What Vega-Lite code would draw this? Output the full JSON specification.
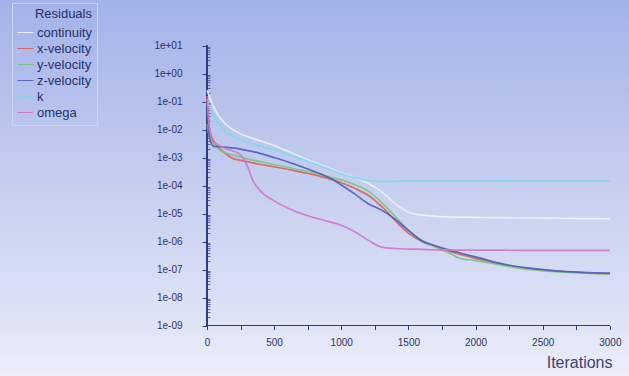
{
  "$schema": "https://vega.github.io/schema/vega-lite/v6.json",
  "width": 629,
  "height": 376,
  "autosize": {"type": "none"},
  "padding": 0,
  "background": "#e9ecf8",
  "config": {
    "view": {"stroke": null, "fill": {"gradient": "linear", "x1": 0, "y1": 0, "x2": 0, "y2": 1, "stops": [{"offset": 0, "color": "#a3b2e8"}, {"offset": 0.45, "color": "#c3ccef"}, {"offset": 0.85, "color": "#dee3f6"}, {"offset": 1, "color": "#eceef9"}]}},
    "font": "Liberation Sans",
    "axis": {"labelFont": "Liberation Sans", "labelColor": "#2b3468", "domain": false, "grid": false, "tickColor": "#2f3d80", "tickWidth": 1}
  },
  "data": {"values": [
    {"series":"continuity","iteration":1,"residual":0.251},{"series":"continuity","iteration":20,"residual":0.141},{"series":"continuity","iteration":50,"residual":0.0631},{"series":"continuity","iteration":100,"residual":0.0251},{"series":"continuity","iteration":150,"residual":0.0141},{"series":"continuity","iteration":200,"residual":0.00933},{"series":"continuity","iteration":250,"residual":0.00708},{"series":"continuity","iteration":300,"residual":0.00562},{"series":"continuity","iteration":350,"residual":0.00468},{"series":"continuity","iteration":400,"residual":0.00389},{"series":"continuity","iteration":500,"residual":0.00269},{"series":"continuity","iteration":600,"residual":0.0017},{"series":"continuity","iteration":700,"residual":0.00105},{"series":"continuity","iteration":800,"residual":6.61e-4},{"series":"continuity","iteration":900,"residual":4.27e-4},{"series":"continuity","iteration":1000,"residual":2.82e-4},{"series":"continuity","iteration":1100,"residual":1.91e-4},{"series":"continuity","iteration":1200,"residual":1.2e-4},{"series":"continuity","iteration":1300,"residual":6.03e-5},{"series":"continuity","iteration":1400,"residual":2.24e-5},{"series":"continuity","iteration":1500,"residual":1.12e-5},{"series":"continuity","iteration":1600,"residual":8.71e-6},{"series":"continuity","iteration":1700,"residual":7.94e-6},{"series":"continuity","iteration":1800,"residual":7.59e-6},{"series":"continuity","iteration":1900,"residual":7.41e-6},{"series":"continuity","iteration":2000,"residual":7.24e-6},{"series":"continuity","iteration":2200,"residual":7.08e-6},{"series":"continuity","iteration":2400,"residual":6.92e-6},{"series":"continuity","iteration":2600,"residual":6.76e-6},{"series":"continuity","iteration":2800,"residual":6.61e-6},{"series":"continuity","iteration":3000,"residual":6.46e-6},
    {"series":"x-velocity","iteration":1,"residual":0.158},{"series":"x-velocity","iteration":20,"residual":0.01},{"series":"x-velocity","iteration":50,"residual":0.00355},{"series":"x-velocity","iteration":100,"residual":0.002},{"series":"x-velocity","iteration":150,"residual":0.00126},{"series":"x-velocity","iteration":200,"residual":8.91e-4},{"series":"x-velocity","iteration":250,"residual":7.94e-4},{"series":"x-velocity","iteration":300,"residual":7.08e-4},{"series":"x-velocity","iteration":350,"residual":6.31e-4},{"series":"x-velocity","iteration":400,"residual":5.62e-4},{"series":"x-velocity","iteration":500,"residual":4.68e-4},{"series":"x-velocity","iteration":600,"residual":3.8e-4},{"series":"x-velocity","iteration":700,"residual":3.02e-4},{"series":"x-velocity","iteration":800,"residual":2.4e-4},{"series":"x-velocity","iteration":900,"residual":1.78e-4},{"series":"x-velocity","iteration":1000,"residual":1.26e-4},{"series":"x-velocity","iteration":1100,"residual":7.94e-5},{"series":"x-velocity","iteration":1200,"residual":4.47e-5},{"series":"x-velocity","iteration":1300,"residual":1.78e-5},{"series":"x-velocity","iteration":1400,"residual":5.62e-6},{"series":"x-velocity","iteration":1500,"residual":2.0e-6},{"series":"x-velocity","iteration":1600,"residual":1.0e-6},{"series":"x-velocity","iteration":1700,"residual":6.61e-7},{"series":"x-velocity","iteration":1800,"residual":4.47e-7},{"series":"x-velocity","iteration":1900,"residual":3.31e-7},{"series":"x-velocity","iteration":2000,"residual":2.51e-7},{"series":"x-velocity","iteration":2200,"residual":1.51e-7},{"series":"x-velocity","iteration":2400,"residual":1.07e-7},{"series":"x-velocity","iteration":2600,"residual":8.71e-8},{"series":"x-velocity","iteration":2800,"residual":7.59e-8},{"series":"x-velocity","iteration":3000,"residual":7.08e-8},
    {"series":"y-velocity","iteration":1,"residual":0.0158},{"series":"y-velocity","iteration":20,"residual":0.00501},{"series":"y-velocity","iteration":50,"residual":0.00316},{"series":"y-velocity","iteration":100,"residual":0.00178},{"series":"y-velocity","iteration":150,"residual":0.00141},{"series":"y-velocity","iteration":200,"residual":0.0012},{"series":"y-velocity","iteration":250,"residual":0.00105},{"series":"y-velocity","iteration":300,"residual":8.91e-4},{"series":"y-velocity","iteration":350,"residual":7.94e-4},{"series":"y-velocity","iteration":400,"residual":7.08e-4},{"series":"y-velocity","iteration":500,"residual":5.62e-4},{"series":"y-velocity","iteration":600,"residual":4.47e-4},{"series":"y-velocity","iteration":700,"residual":3.55e-4},{"series":"y-velocity","iteration":800,"residual":2.82e-4},{"series":"y-velocity","iteration":900,"residual":2.09e-4},{"series":"y-velocity","iteration":1000,"residual":1.58e-4},{"series":"y-velocity","iteration":1100,"residual":1.07e-4},{"series":"y-velocity","iteration":1200,"residual":6.31e-5},{"series":"y-velocity","iteration":1300,"residual":2.51e-5},{"series":"y-velocity","iteration":1400,"residual":7.94e-6},{"series":"y-velocity","iteration":1500,"residual":2.51e-6},{"series":"y-velocity","iteration":1600,"residual":1.12e-6},{"series":"y-velocity","iteration":1700,"residual":6.31e-7},{"series":"y-velocity","iteration":1800,"residual":3.98e-7},{"series":"y-velocity","iteration":1900,"residual":2.4e-7},{"series":"y-velocity","iteration":2000,"residual":2.09e-7},{"series":"y-velocity","iteration":2200,"residual":1.41e-7},{"series":"y-velocity","iteration":2400,"residual":1.0e-7},{"series":"y-velocity","iteration":2600,"residual":8.32e-8},{"series":"y-velocity","iteration":2800,"residual":7.59e-8},{"series":"y-velocity","iteration":3000,"residual":6.92e-8},
    {"series":"z-velocity","iteration":1,"residual":0.0501},{"series":"z-velocity","iteration":20,"residual":0.00501},{"series":"z-velocity","iteration":50,"residual":0.00251},{"series":"z-velocity","iteration":100,"residual":0.0024},{"series":"z-velocity","iteration":150,"residual":0.00229},{"series":"z-velocity","iteration":200,"residual":0.00219},{"series":"z-velocity","iteration":250,"residual":0.002},{"series":"z-velocity","iteration":300,"residual":0.00178},{"series":"z-velocity","iteration":350,"residual":0.00158},{"series":"z-velocity","iteration":400,"residual":0.00138},{"series":"z-velocity","iteration":500,"residual":0.001},{"series":"z-velocity","iteration":600,"residual":7.08e-4},{"series":"z-velocity","iteration":700,"residual":4.79e-4},{"series":"z-velocity","iteration":800,"residual":3.16e-4},{"series":"z-velocity","iteration":900,"residual":2.0e-4},{"series":"z-velocity","iteration":1000,"residual":1.05e-4},{"series":"z-velocity","iteration":1100,"residual":5.01e-5},{"series":"z-velocity","iteration":1200,"residual":2.24e-5},{"series":"z-velocity","iteration":1300,"residual":1.32e-5},{"series":"z-velocity","iteration":1400,"residual":6.31e-6},{"series":"z-velocity","iteration":1500,"residual":2.51e-6},{"series":"z-velocity","iteration":1600,"residual":1.07e-6},{"series":"z-velocity","iteration":1700,"residual":7.08e-7},{"series":"z-velocity","iteration":1800,"residual":5.01e-7},{"series":"z-velocity","iteration":1900,"residual":3.72e-7},{"series":"z-velocity","iteration":2000,"residual":2.82e-7},{"series":"z-velocity","iteration":2200,"residual":1.58e-7},{"series":"z-velocity","iteration":2400,"residual":1.12e-7},{"series":"z-velocity","iteration":2600,"residual":8.91e-8},{"series":"z-velocity","iteration":2800,"residual":7.94e-8},{"series":"z-velocity","iteration":3000,"residual":7.41e-8},
    {"series":"k","iteration":1,"residual":0.1},{"series":"k","iteration":20,"residual":0.0631},{"series":"k","iteration":50,"residual":0.0316},{"series":"k","iteration":100,"residual":0.0141},{"series":"k","iteration":150,"residual":0.00794},{"series":"k","iteration":200,"residual":0.00562},{"series":"k","iteration":250,"residual":0.00447},{"series":"k","iteration":300,"residual":0.00355},{"series":"k","iteration":350,"residual":0.00302},{"series":"k","iteration":400,"residual":0.00251},{"series":"k","iteration":500,"residual":0.00191},{"series":"k","iteration":600,"residual":0.00132},{"series":"k","iteration":700,"residual":8.91e-4},{"series":"k","iteration":800,"residual":6.03e-4},{"series":"k","iteration":900,"residual":3.98e-4},{"series":"k","iteration":1000,"residual":2.69e-4},{"series":"k","iteration":1100,"residual":1.91e-4},{"series":"k","iteration":1200,"residual":1.51e-4},{"series":"k","iteration":1300,"residual":1.38e-4},{"series":"k","iteration":1400,"residual":1.41e-4},{"series":"k","iteration":1500,"residual":1.45e-4},{"series":"k","iteration":1600,"residual":1.44e-4},{"series":"k","iteration":1700,"residual":1.45e-4},{"series":"k","iteration":1800,"residual":1.46e-4},{"series":"k","iteration":1900,"residual":1.44e-4},{"series":"k","iteration":2000,"residual":1.45e-4},{"series":"k","iteration":2200,"residual":1.46e-4},{"series":"k","iteration":2400,"residual":1.44e-4},{"series":"k","iteration":2600,"residual":1.45e-4},{"series":"k","iteration":2800,"residual":1.44e-4},{"series":"k","iteration":3000,"residual":1.45e-4},
    {"series":"omega","iteration":1,"residual":0.126},{"series":"omega","iteration":20,"residual":0.01},{"series":"omega","iteration":50,"residual":0.00398},{"series":"omega","iteration":100,"residual":0.00251},{"series":"omega","iteration":150,"residual":0.002},{"series":"omega","iteration":200,"residual":0.00166},{"series":"omega","iteration":250,"residual":0.00126},{"series":"omega","iteration":300,"residual":5.01e-4},{"series":"omega","iteration":350,"residual":1.26e-4},{"series":"omega","iteration":400,"residual":6.31e-5},{"series":"omega","iteration":500,"residual":2.82e-5},{"series":"omega","iteration":600,"residual":1.58e-5},{"series":"omega","iteration":700,"residual":1.0e-5},{"series":"omega","iteration":800,"residual":7.08e-6},{"series":"omega","iteration":900,"residual":5.25e-6},{"series":"omega","iteration":1000,"residual":3.8e-6},{"series":"omega","iteration":1100,"residual":2.24e-6},{"series":"omega","iteration":1200,"residual":1.12e-6},{"series":"omega","iteration":1300,"residual":6.31e-7},{"series":"omega","iteration":1400,"residual":5.62e-7},{"series":"omega","iteration":1500,"residual":5.37e-7},{"series":"omega","iteration":1600,"residual":5.25e-7},{"series":"omega","iteration":1700,"residual":5.01e-7},{"series":"omega","iteration":1800,"residual":5.01e-7},{"series":"omega","iteration":1900,"residual":4.9e-7},{"series":"omega","iteration":2000,"residual":4.9e-7},{"series":"omega","iteration":2200,"residual":4.9e-7},{"series":"omega","iteration":2400,"residual":4.8e-7},{"series":"omega","iteration":2600,"residual":4.8e-7},{"series":"omega","iteration":2800,"residual":4.8e-7},{"series":"omega","iteration":3000,"residual":4.8e-7}
  ]},
  "layer": [
    {
      "mark": {"type": "rule", "color": "#2f3d80", "strokeWidth": 1.2},
      "encoding": {
        "x": {"datum": 0, "type": "quantitative", "scale": {"domain": [-1540.9, 3142.6], "nice": false, "zero": false}, "axis": null},
        "y": {"datum": 1e-9, "type": "quantitative", "scale": {"type": "log", "domain": [1.572e-11, 421.7], "nice": false},
              "axis": {"orient": "right", "offset": -422, "values": [2e-9,3e-9,4e-9,5e-9,6e-9,7e-9,8e-9,9e-9,2e-8,3e-8,4e-8,5e-8,6e-8,7e-8,8e-8,9e-8,2e-7,3e-7,4e-7,5e-7,6e-7,7e-7,8e-7,9e-7,2e-6,3e-6,4e-6,5e-6,6e-6,7e-6,8e-6,9e-6,2e-5,3e-5,4e-5,5e-5,6e-5,7e-5,8e-5,9e-5,2e-4,3e-4,4e-4,5e-4,6e-4,7e-4,8e-4,9e-4,0.002,0.003,0.004,0.005,0.006,0.007,0.008,0.009,0.02,0.03,0.04,0.05,0.06,0.07,0.08,0.09,0.2,0.3,0.4,0.5,0.6,0.7,0.8,0.9,2,3,4,5,6,7,8,9], "labels": false, "tickSize": 3, "title": null, "tickColor": "#5a66a0"}},
        "y2": {"datum": 10}
      }
    },
    {
      "mark": {"type": "rule", "color": "#2f3d80", "strokeWidth": 1.2},
      "encoding": {
        "x": {"datum": 0, "type": "quantitative", "axis": null},
        "x2": {"datum": 3000},
        "y": {"datum": 1e-9, "type": "quantitative", "axis": null}
      }
    },
    {
      "mark": {"type": "line", "interpolate": "monotone", "strokeWidth": 1.7, "opacity": 0.9},
      "encoding": {
        "x": {"field": "iteration", "type": "quantitative",
              "axis": {"orient": "bottom", "offset": -50.5, "values": [0,250,500,750,1000,1250,1500,1750,2000,2250,2500,2750,3000], "format": "d", "labelExpr": "datum.value % 500 == 0 ? datum.label : ''", "tickSize": 4, "labelPadding": 8, "labelFontSize": 10, "title": "Iterations", "titleFont": "Liberation Sans", "titleFontSize": 16, "titleFontWeight": "normal", "titleColor": "#3a4474", "titleX": 612, "titleY": 29, "titleAlign": "right", "titleBaseline": "top"}},
        "y": {"field": "residual", "type": "quantitative",
              "axis": {"orient": "left", "offset": -207, "values": [1e-9,1e-8,1e-7,1e-6,1e-5,1e-4,0.001,0.01,0.1,1,10], "labelExpr": "'1e' + (round(log(datum.value)/LN10) < 0 ? '-' : '+') + (abs(round(log(datum.value)/LN10)) < 10 ? '0' : '') + abs(round(log(datum.value)/LN10))", "tickSize": 5, "labelPadding": 20, "labelFontSize": 10, "title": null}},
        "color": {"field": "series", "type": "nominal",
                  "scale": {"domain": ["continuity","x-velocity","y-velocity","z-velocity","k","omega"], "range": ["#eef1ff","#d9605a","#7cc47c","#4a5fb8","#80d8ea","#d673c9"]},
                  "legend": {"orient": "none", "legendX": 12, "legendY": 3, "title": "Residuals", "titleFont": "Liberation Sans", "titleFontSize": 13, "titleFontWeight": "normal", "titleColor": "#27306a", "titleAnchor": "end", "titlePadding": 3, "labelFont": "Liberation Sans", "labelFontSize": 13, "labelColor": "#27306a", "labelOffset": 3, "symbolType": "stroke", "symbolSize": 256, "symbolStrokeWidth": 1, "rowPadding": 0, "padding": 5, "strokeColor": "#cdd4f2", "fillColor": null}}
      }
    }
  ],
  "resolve": {"axis": {"x": "independent", "y": "independent"}}
}
